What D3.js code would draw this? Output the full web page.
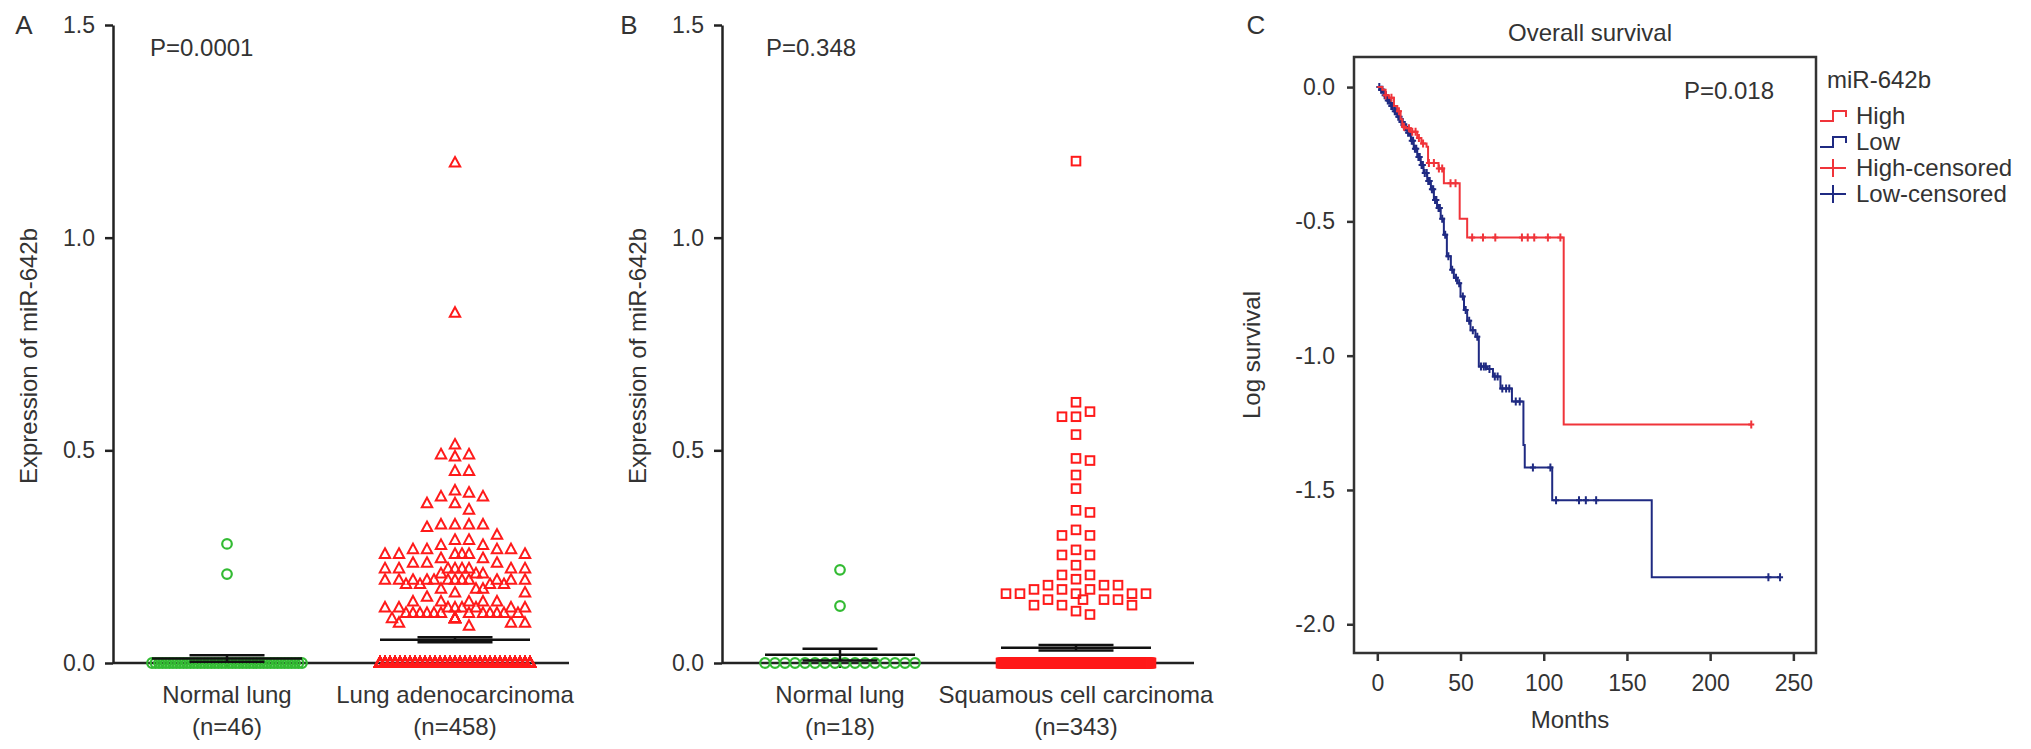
<!DOCTYPE html>
<html>
<head>
<meta charset="utf-8">
<script src="https://cdn.jsdelivr.net/npm/d3@7"></script>
<style>
body { margin: 0; background: #fff; }
text { font-family: "Liberation Sans", Arial, sans-serif; fill: #333; }
</style>
</head>
<body>
<svg id="chart" width="2031" height="749"></svg>
<script>
// ---- panel A data ----
var groupsA = ['Normal lung', 'Lung adenocarcinoma'];
var countsA = ['(n=46)', '(n=458)'];
var normalA = [0.28, 0.209];
var normalAZeros = 44;
var adenoA = [1.176, 0.823, 0.513, 0.49, 0.49, 0.485, 0.451, 0.451, 0.405, 0.40,
    0.391, 0.391, 0.375, 0.375, 0.36, 0.325, 0.325, 0.325, 0.325, 0.319, 0.301,
    0.289, 0.289, 0.277, 0.277, 0.267, 0.267, 0.267, 0.267,
    0.256, 0.256, 0.256, 0.256, 0.256, 0.256, 0.246, 0.246, 0.235, 0.235, 0.235,
    0.222, 0.222, 0.222, 0.222, 0.222, 0.222, 0.222, 0.222, 0.21, 0.21, 0.21,
    0.195, 0.195, 0.195, 0.195, 0.195, 0.195, 0.195, 0.195, 0.195, 0.195, 0.195, 0.195,
    0.185, 0.185, 0.185, 0.185, 0.174, 0.174, 0.174, 0.165, 0.165, 0.155,
    0.144, 0.144, 0.144, 0.144, 0.144, 0.13, 0.13, 0.13, 0.13, 0.13, 0.13, 0.13, 0.13,
    0.117, 0.117, 0.117, 0.117, 0.117, 0.117, 0.117, 0.117, 0.117, 0.117, 0.117, 0.117,
    0.105, 0.105, 0.105, 0.105, 0.105, 0.105, 0.094, 0.094, 0.094, 0.087];
var adenoAZeros = 350;

// ---- panel B data ----
var groupsB = ['Normal lung', 'Squamous cell carcinoma'];
var countsB = ['(n=18)', '(n=343)'];
var normalB = [0.219, 0.134];
var normalBZeros = 16;
var squamB = [1.18, 0.613, 0.591, 0.579, 0.579, 0.537, 0.481, 0.476, 0.442, 0.41,
    0.359, 0.354, 0.313, 0.30, 0.30, 0.266, 0.254, 0.254, 0.23, 0.207, 0.207, 0.197,
    0.183, 0.183, 0.183, 0.173, 0.173, 0.173, 0.163, 0.163, 0.163, 0.163, 0.163,
    0.149, 0.149, 0.149, 0.149, 0.136, 0.136, 0.136, 0.122, 0.114];
var squamBZeros = 301;

var yTicksAB = [0, 0.5, 1.0, 1.5];

// ---- panel C data (months, log survival) ----
var highT = [0, 3, 5, 7, 10, 12, 14, 15, 17, 20, 24, 26.5, 29.6, 30.5, 36.8, 40, 49.5, 54, 112, 224.7];
var highS = [0, -0.01, -0.03, -0.04, -0.07, -0.09, -0.12, -0.148, -0.153, -0.166, -0.19, -0.21,
    -0.222, -0.283, -0.303, -0.358, -0.49, -0.56, -1.256, -1.256];
var highCensor = [5, 8.5, 13, 16, 19, 21, 23, 25, 27.5, 31, 34, 37, 39, 44, 47, 57, 63.5,
    70.9, 86.9, 90.4, 94.3, 102.5, 110, 224.7];

var lowT = [0, 1.8, 4.1, 6, 7.9, 10.2, 12, 13.8, 16.1, 18, 20.2, 21.9, 24, 26.1, 27.8, 30, 32.2,
    34, 35.9, 38.1, 40, 41.8, 44.2, 46, 48.1, 50, 52.1, 54, 56, 59, 61, 66, 69.5, 74, 80.9,
    87.8, 88.6, 105.1, 164.9, 242];
var lowS = [0, -0.01, -0.03, -0.05, -0.07, -0.09, -0.11, -0.13, -0.15, -0.17, -0.20, -0.23,
    -0.26, -0.29, -0.32, -0.35, -0.38, -0.42, -0.45, -0.49, -0.55, -0.63, -0.68, -0.71, -0.73,
    -0.78, -0.83, -0.87, -0.905, -0.93, -1.04, -1.05, -1.078, -1.122, -1.171, -1.333, -1.416,
    -1.538, -1.825, -1.825];
var lowCensor = [1.2, 2.3, 3.1, 4.4, 5.2, 6.3, 7.1, 8.4, 9.2, 10.5, 11.3, 12.6, 13.4, 14.5,
    15.3, 16.6, 17.4, 18.5, 19.6, 20.7, 21.5, 22.6, 23.4, 24.7, 25.5, 26.6, 27.4, 28.5,
    29.7, 30.6, 31.5, 32.8, 33.6, 34.7, 35.5, 36.8, 37.6, 39, 40.8, 42.7, 45, 47.3, 49.2,
    51.4, 53.1, 55.2, 57.4, 60.1, 62.3, 64, 65.2, 67.4, 70.6, 72.3, 75.1, 77.4, 79.3,
    83.2, 85.6, 93.5, 104, 107.4, 121.2, 125.3, 131.5, 235, 242];
var xTicksC = [0, 50, 100, 150, 200, 250];
var yTicksC = [0, -0.5, -1.0, -1.5, -2.0];

var RED = '#ff1a1a', GREEN = '#33bb33';
var LINE_RED = '#f0343a', LINE_BLUE = '#1f2a82';

var svg = d3.select('#chart');

function withZeros(vals, nZeros) {
    return vals.concat(new Array(nZeros).fill(0));
}

// lay points out in rows like a column scatter plot
function swarm(values, cx, half, y, zeroStep) {
    var s = 14, placed = [];
    var zeros = values.filter(function (v) { return v === 0; });
    var nz = values.filter(function (v) { return v > 0; }).sort(d3.descending);
    var cands = [0];
    for (var k = 1; k <= 5; k++) { cands.push(k * s, -k * s); }
    for (var k = 0; k < 5; k++) { cands.push((k + 0.5) * s, -(k + 0.5) * s); }

    nz.forEach(function (v) {
        var py = y(v), chosen = null, best = null, bestD = -1;
        for (var i = 0; i < cands.length; i++) {
            var px = cx + cands[i], dmin = Infinity;
            placed.forEach(function (p) {
                if (Math.abs(p.y - py) < 11) { dmin = Math.min(dmin, Math.abs(p.x - px)); }
            });
            if (dmin >= 12) { chosen = px; break; }
            if (dmin > bestD) { bestD = dmin; best = px; }
        }
        placed.push({ x: chosen !== null ? chosen : best, y: py, v: v });
    });

    // zeros share a row; optionally snapped to slots so outlines stay visible
    var nSlots = zeroStep ? Math.round(2 * half / zeroStep) + 1 : zeros.length;
    var out = zeros.map(function (v, i) {
        var slot = zeroStep ? i % nSlots : i;
        var px = nSlots > 1 ? cx - half + slot * (2 * half) / (nSlots - 1) : cx;
        return { x: px, y: y(0), v: 0 };
    });
    return out.concat(placed);
}

function marker(g, pts, shape, color) {
    if (shape === 'circle') {
        g.selectAll(null).data(pts).enter().append('circle')
            .attr('cx', function (d) { return d.x; })
            .attr('cy', function (d) { return d.y; })
            .attr('r', 4.8)
            .style('fill', 'none').style('stroke', color).style('stroke-width', 2.2);
    } else if (shape === 'triangle') {
        g.selectAll(null).data(pts).enter().append('path')
            .attr('d', 'M0,-5.8L5.2,3.8L-5.2,3.8Z')
            .attr('transform', function (d) { return 'translate(' + d.x + ',' + d.y + ')'; })
            .style('fill', 'none').style('stroke', color).style('stroke-width', 2);
    } else {
        g.selectAll(null).data(pts).enter().append('rect')
            .attr('x', function (d) { return d.x - 4.3; })
            .attr('y', function (d) { return d.y - 4.3; })
            .attr('width', 8.6).attr('height', 8.6)
            .style('fill', 'none').style('stroke', color).style('stroke-width', 2);
    }
}

function drawScatter(opt) {
    var g = svg.append('g');
    var y = d3.scaleLinear().domain([0, 1.5]).range([663, 25]);
    var x = d3.scaleBand().domain(opt.groups).range([opt.left, opt.right]);
    var half = 75;

    var yAxis = d3.axisLeft(y).tickValues(yTicksAB).tickFormat(d3.format('.1f'))
        .tickSize(8).tickPadding(10).tickSizeOuter(0);
    var ya = g.append('g').attr('transform', 'translate(' + opt.left + ',0)').call(yAxis);
    ya.select('.domain').style('stroke', '#222').style('stroke-width', 2.5);
    ya.selectAll('.tick line').style('stroke', '#222').style('stroke-width', 2.5);
    ya.selectAll('.tick text').style('font-size', '23px').style('fill', '#333')
        .style('font-family', '"Liberation Sans", Arial, sans-serif');

    // baseline at zero with small ticks under the groups
    g.append('line')
        .attr('x1', opt.left).attr('x2', opt.right)
        .attr('y1', y(0)).attr('y2', y(0))
        .style('stroke', '#222').style('stroke-width', 2.5);
    g.selectAll(null).data(opt.groups).enter().append('line')
        .attr('x1', function (d) { return x(d) + x.bandwidth() / 2; })
        .attr('x2', function (d) { return x(d) + x.bandwidth() / 2; })
        .attr('y1', y(0)).attr('y2', y(0) + 5)
        .style('stroke', '#222').style('stroke-width', 2);

    opt.series.forEach(function (s, i) {
        var cx = x(opt.groups[i]) + x.bandwidth() / 2;
        var pts = swarm(s.values, cx, half, y, s.zeroStep);
        marker(g, pts, s.shape, s.color);

        var m = d3.mean(s.values);
        var sem = d3.deviation(s.values) / Math.sqrt(s.values.length);
        var lines = [
            [cx - half, cx + half, y(m), y(m)],
            [cx - half / 2, cx + half / 2, y(m + sem), y(m + sem)],
            [cx - half / 2, cx + half / 2, y(m - sem), y(m - sem)],
            [cx, cx, y(m + sem), y(m - sem)]
        ];
        g.selectAll(null).data(lines).enter().append('line')
            .attr('x1', function (d) { return d[0]; })
            .attr('x2', function (d) { return d[1]; })
            .attr('y1', function (d) { return d[2]; })
            .attr('y2', function (d) { return d[3]; })
            .style('stroke', '#111').style('stroke-width', 2.5);

        g.append('text').attr('x', cx).attr('y', 695).attr('dy', '0.35em')
            .style('text-anchor', 'middle').style('font-size', '24px').text(opt.groups[i]);
        g.append('text').attr('x', cx).attr('y', 727).attr('dy', '0.35em')
            .style('text-anchor', 'middle').style('font-size', '24px').text(opt.counts[i]);
    });

    g.append('text')
        .attr('transform', 'translate(' + (opt.left - 84) + ',356)rotate(-90)')
        .attr('dy', '0.35em')
        .style('text-anchor', 'middle').style('font-size', '24px')
        .text('Expression of miR-642b');
    g.append('text').attr('x', opt.left + opt.pOffset).attr('y', 48).attr('dy', '0.35em')
        .style('font-size', '24px').text(opt.p);
    g.append('text').attr('x', opt.letterX).attr('y', 25).attr('dy', '0.35em')
        .style('text-anchor', 'middle').style('font-size', '26px').text(opt.letter);
}

drawScatter({
    letter: 'A', letterX: 24, left: 113, right: 569, pOffset: 37, p: 'P=0.0001',
    groups: groupsA, counts: countsA,
    series: [
        { values: withZeros(normalA, normalAZeros), shape: 'circle', color: GREEN },
        { values: withZeros(adenoA, adenoAZeros), shape: 'triangle', color: RED, zeroStep: 5 }
    ]
});

drawScatter({
    letter: 'B', letterX: 629, left: 722, right: 1194, pOffset: 44, p: 'P=0.348',
    groups: groupsB, counts: countsB,
    series: [
        { values: withZeros(normalB, normalBZeros), shape: 'circle', color: GREEN },
        { values: withZeros(squamB, squamBZeros), shape: 'square', color: RED }
    ]
});

// ---- panel C: survival ----
var cx0 = 1354, cx1 = 1816, cy0 = 57, cy1 = 653;
var xC = d3.scaleLinear().domain([-14, 263.6]).range([cx0, cx1]);
var yC = d3.scaleLinear().domain([0.112, -2.107]).range([cy0, cy1]);
var gc = svg.append('g');

var xa = gc.append('g').attr('transform', 'translate(0,' + cy1 + ')')
    .call(d3.axisBottom(xC).tickValues(xTicksC).tickSize(8).tickPadding(14).tickSizeOuter(0));
var ya = gc.append('g').attr('transform', 'translate(' + cx0 + ',0)')
    .call(d3.axisLeft(yC).tickValues(yTicksC).tickFormat(function (d) { return d.toFixed(1); })
        .tickSize(7).tickPadding(12).tickSizeOuter(0));
[xa, ya].forEach(function (a) {
    a.select('.domain').remove();
    a.selectAll('.tick line').style('stroke', '#333').style('stroke-width', 2.5);
    a.selectAll('.tick text').style('font-size', '23px').style('fill', '#333')
        .style('font-family', '"Liberation Sans", Arial, sans-serif');
});

gc.append('rect').attr('x', cx0).attr('y', cy0)
    .attr('width', cx1 - cx0).attr('height', cy1 - cy0)
    .style('fill', 'none').style('stroke', '#333').style('stroke-width', 2.5);

var stepLine = d3.line()
    .x(function (d) { return xC(d[0]); })
    .y(function (d) { return yC(d[1]); })
    .curve(d3.curveStepAfter);

function drawCurve(ts, ss, censor, color) {
    var pts = ts.map(function (t, i) { return [t, ss[i]]; });
    gc.append('path').attr('d', stepLine(pts))
        .style('fill', 'none').style('stroke', color).style('stroke-width', 2);
    var marks = censor.map(function (t) {
        var i = d3.bisectRight(ts, t) - 1;
        return [t, ss[Math.max(0, i)]];
    });
    gc.selectAll(null).data(marks).enter().append('path')
        .attr('d', function (d) {
            var px = xC(d[0]), py = yC(d[1]);
            return 'M' + px + ',' + (py - 4) + 'V' + (py + 4) + 'M' + (px - 3) + ',' + py + 'H' + (px + 3);
        })
        .style('fill', 'none').style('stroke', color).style('stroke-width', 2);
}
drawCurve(lowT, lowS, lowCensor, LINE_BLUE);
drawCurve(highT, highS, highCensor, LINE_RED);

gc.append('text').attr('x', 1590).attr('y', 33).attr('dy', '0.35em')
    .style('text-anchor', 'middle').style('font-size', '24px').text('Overall survival');
gc.append('text').attr('x', 1774).attr('y', 91).attr('dy', '0.35em')
    .style('text-anchor', 'end').style('font-size', '24px').text('P=0.018');
gc.append('text').attr('x', 1570).attr('y', 720).attr('dy', '0.35em')
    .style('text-anchor', 'middle').style('font-size', '24px').text('Months');
gc.append('text').attr('transform', 'translate(1252,355)rotate(-90)').attr('dy', '0.35em')
    .style('text-anchor', 'middle').style('font-size', '24px').text('Log survival');
gc.append('text').attr('x', 1256).attr('y', 25).attr('dy', '0.35em')
    .style('text-anchor', 'middle').style('font-size', '26px').text('C');

// legend
var legendItems = [
    { label: 'High', color: LINE_RED, kind: 'step' },
    { label: 'Low', color: LINE_BLUE, kind: 'step' },
    { label: 'High-censored', color: LINE_RED, kind: 'cross' },
    { label: 'Low-censored', color: LINE_BLUE, kind: 'cross' }
];
var lg = svg.append('g').attr('transform', 'translate(1820,0)');
lg.append('text').attr('x', 7).attr('y', 80).attr('dy', '0.35em')
    .style('font-size', '24px').text('miR-642b');
var rows = lg.selectAll(null).data(legendItems).enter().append('g')
    .attr('transform', function (d, i) { return 'translate(0,' + (116 + i * 26) + ')'; });
rows.append('path')
    .attr('d', function (d) {
        return d.kind === 'step' ? 'M0,5H13V-5H26V1' : 'M0,0H26M13,-9V9';
    })
    .style('fill', 'none').style('stroke', function (d) { return d.color; }).style('stroke-width', 2);
rows.append('text').attr('x', 36).attr('dy', '0.35em')
    .style('font-size', '24px').text(function (d) { return d.label; });
</script>
</body>
</html>
